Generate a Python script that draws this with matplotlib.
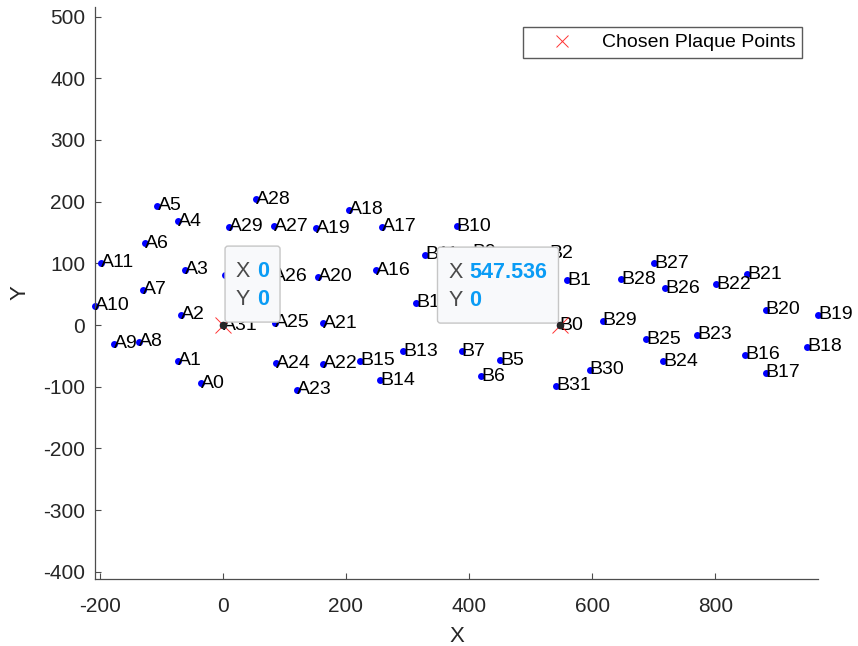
import numpy as np
import matplotlib.pyplot as plt
from matplotlib.patches import FancyBboxPatch
from matplotlib.transforms import ScaledTranslation

plt.rcParams['font.family'] = ['Liberation Sans', 'DejaVu Sans']
plt.rcParams['axes.unicode_minus'] = False

# landmark points of plaque contour A
a_names = ['A0', 'A1', 'A2', 'A3', 'A4', 'A5', 'A6', 'A7', 'A8', 'A9', 'A10', 'A11',
           'A16', 'A17', 'A18', 'A19', 'A20', 'A21', 'A22', 'A23', 'A24', 'A25',
           'A26', 'A27', 'A28', 'A29', 'A30', 'A31']
a_x = [-35, -72, -68, -61, -72, -106, -126, -129, -136, -176, -207.5, -198,
       249, 259, 205, 152, 155, 163, 163, 120, 87, 85,
       82, 83, 54, 10, 3, 0]
a_y = [-94, -58, 17, 90, 168, 193, 133, 57, -27, -30, 31, 101,
       89, 159, 187, 157, 78, 3, -63, -105, -62, 4,
       79, 160, 204, 159, 81, 0]

# landmark points of plaque contour B
b_names = ['B%d' % i for i in range(32)]
b_x = [547.536, 560, 530, 490, 470, 451, 420, 388, 400, 405, 380, 329, 314, 293, 256, 223,
       849, 882, 949, 967, 882, 852, 802, 771, 716, 688, 719, 701, 647, 617, 596, 542]
b_y = [0, 73, 116, 95, 35, -57, -83, -42, 40, 118, 160, 114, 36, -42, -89, -58,
       -48, -77, -35, 17, 25, 82, 66, -16, -59, -23, 60, 100, 74, 7, -72, -98]

# chosen reference points
chosen_x = [0, 547.536]
chosen_y = [0, 0]

fig = plt.figure(figsize=(8.58, 6.46), dpi=100)
ax = fig.add_axes([95 / 858, 1 - 579 / 646, 723 / 858, 572 / 646])

ax.plot(a_x, a_y, 'o', color='blue', ms=5, mew=0, clip_on=False, zorder=2)
ax.plot(b_x, b_y, 'o', color='blue', ms=5, mew=0, clip_on=False, zorder=2)
for n, x, y in zip(a_names, a_x, a_y):
    ax.text(x, y, n, fontsize=14, ha='left', va='center', color='black', zorder=3)
for n, x, y in zip(b_names, b_x, b_y):
    ax.text(x, y, n, fontsize=14, ha='left', va='center', color='black', zorder=3)

ax.plot(chosen_x, chosen_y, 'x', color='red', ms=12, mew=0.7, alpha=0.8,
        label='Chosen Plaque Points', zorder=4)
ax.plot(chosen_x, chosen_y, 'o', color='#262626', ms=5.5, mew=0, zorder=6)


def data_tip(px, py, x0, y0, w, h):
    # box offsets are in pixels relative to the tip point
    tr = fig.dpi_scale_trans + ScaledTranslation(px, py, ax.transData)
    box = FancyBboxPatch((x0 / 100, y0 / 100), w / 100, h / 100,
                         boxstyle='round,pad=0,rounding_size=0.03', transform=tr,
                         fc='#f8f9fb', ec='#c6c6c6', lw=1, zorder=5, clip_on=False)
    ax.add_patch(box)
    for lab, val, ry in [('X', px, 51), ('Y', py, 23)]:
        txt = ('%.3f' % val).rstrip('0').rstrip('.')
        ax.text((x0 + 18) / 100, (y0 + ry) / 100, lab, transform=tr, ha='center',
                va='center', fontsize=15.5, color='#4a4a4a', zorder=7)
        ax.text((x0 + 32) / 100, (y0 + ry) / 100, txt, transform=tr, ha='left',
                va='center', fontsize=15.5, fontweight='bold', color='#0a9cf5', zorder=7)


data_tip(chosen_x[0], chosen_y[0], 2.3, 3, 55, 76)
data_tip(chosen_x[1], chosen_y[1], -122.3, 2, 121, 76)

ax.set_xlim(min(a_x + b_x), max(a_x + b_x))
ax.set_ylim(-411.5, 515.5)
ax.set_xticks(np.arange(-200, 801, 200))
ax.set_yticks(np.arange(-400, 501, 100))
ax.set_xlabel('X', fontsize=16, color='#262626', labelpad=7)
ax.set_ylabel('Y', fontsize=16, color='#262626', labelpad=9)

for s in ['top', 'right']:
    ax.spines[s].set_visible(False)
for s in ['left', 'bottom']:
    ax.spines[s].set_color('#4d4d4d')
    ax.spines[s].set_linewidth(0.9)
ax.tick_params(direction='in', length=4, width=0.8, color='#4d4d4d',
               labelcolor='#262626', labelsize=15)
ax.tick_params(axis='x', pad=13)
ax.tick_params(axis='y', pad=7)

ax.legend(loc='upper right', bbox_to_anchor=(802 / 858, 1 - 27 / 646),
          bbox_transform=fig.transFigure, borderaxespad=0, fontsize=14,
          handlelength=3.3, handletextpad=0.4, borderpad=0.35, fancybox=False,
          framealpha=1, edgecolor='#5a5a5a', markerscale=0.75)

fig.savefig('out.png', dpi=100)
